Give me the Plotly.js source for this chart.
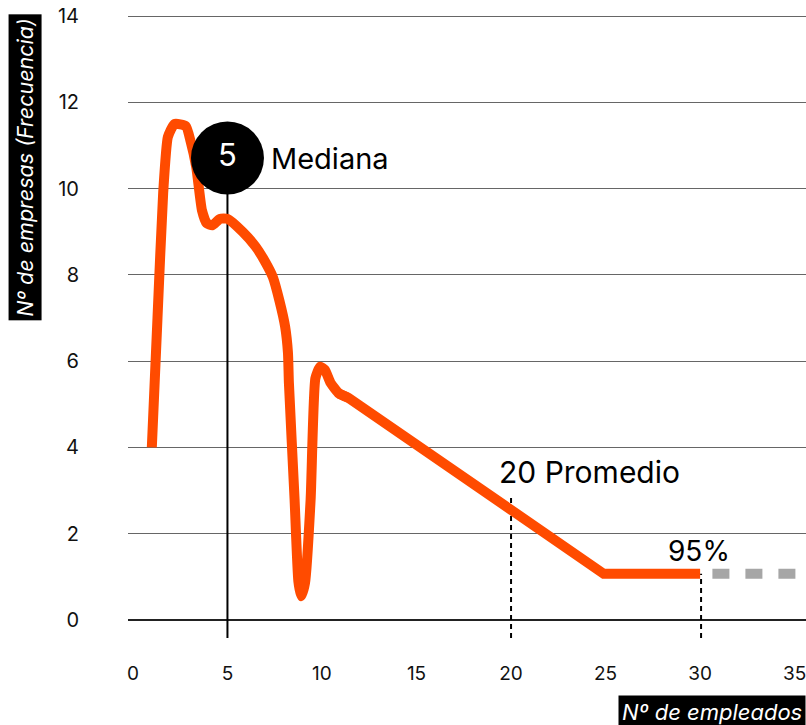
<!DOCTYPE html>
<html>
<head>
<meta charset="utf-8">
<script src="https://cdn.plot.ly/plotly-3.0.1.min.js"></script>
<style>html,body{margin:0;padding:0;background:#fff;}#chart{width:806px;height:725px;}</style>
</head>
<body>
<div id="chart"></div>
<script>
// Distribution curve (Nº de empleados vs Nº de empresas)
const empleados = [1.0, 1.3, 1.6, 1.85, 2.2, 2.8, 3.05, 3.35, 3.65, 3.9, 4.2, 4.6, 5.0, 5.8, 6.5, 7.0, 7.4, 7.75, 8.05, 8.2, 8.25, 8.55, 8.75, 8.9, 9.1, 9.4, 9.65, 9.9, 10.15, 10.45, 10.9, 11.4, 24.9, 30.0];
const empresas  = [4.0, 7.0, 9.9, 11.2, 11.5, 11.45, 11.1, 10.5, 9.5, 9.2, 9.15, 9.3, 9.3, 9.0, 8.65, 8.3, 7.95, 7.4, 6.8, 6.2, 5.5, 2.8, 0.9, 0.55, 0.85, 2.8, 5.6, 5.87, 5.8, 5.5, 5.25, 5.15, 1.07, 1.07];
// Tail beyond the 95th percentile
const colaX = [30.65, 35.6];
const colaY = [1.07, 1.07];
// Reference values
const mediana = 5;
const medianaY = 10.71;
const promedio = 20;
const promedioTop = 2.86;
const p95 = 30.05;
const p95Top = 1.07;
const xTicks = [0, 5, 10, 15, 20, 25, 30, 35];
const yTicks = [0, 2, 4, 6, 8, 10, 12, 14];

const FONT = 'Inter, "Open Sans", sans-serif';
const ORANGE = '#FF4B00';
const yBottom = -0.42;
const splitAt = 31; // curved part ends at index 31, straight segments after

const traces = [
  {x: colaX, y: colaY, mode: 'lines', line: {color: '#A6A6A6', width: 10, dash: '17px,16px'}, hoverinfo: 'skip', showlegend: false},
  {x: empleados.slice(0, splitAt + 1), y: empresas.slice(0, splitAt + 1), mode: 'lines',
   line: {color: ORANGE, width: 10, shape: 'spline', smoothing: 0.5}, showlegend: false},
  {x: empleados.slice(splitAt - 1), y: empresas.slice(splitAt - 1), mode: 'lines',
   line: {color: ORANGE, width: 10, shape: 'linear'}, showlegend: false},
  {x: [mediana], y: [medianaY], mode: 'markers+text', marker: {color: '#000', size: 73}, text: [String(mediana)],
   textposition: 'middle center', textfont: {color: '#fff', size: 31, family: FONT}, showlegend: false}
];

const layout = {
  width: 806, height: 725,
  margin: {l: 128, r: 0, t: 14, b: 87},
  paper_bgcolor: '#fff', plot_bgcolor: '#fff',
  font: {family: FONT, color: '#111'},
  showlegend: false,
  xaxis: {
    range: [-0.26, 35.6], tickvals: xTicks, ticktext: xTicks.map(String),
    showgrid: false, zeroline: false, showline: false, ticks: '',
    tickfont: {size: 19, family: FONT, color: '#111'}, ticklabelstandoff: 22, ticklabeloverflow: 'allow'
  },
  yaxis: {
    range: [yBottom, 14.05], tickvals: yTicks, ticktext: yTicks.map(String),
    showgrid: true, gridcolor: '#666', gridwidth: 1,
    zeroline: true, zerolinecolor: '#222', zerolinewidth: 2,
    showline: false, ticks: '',
    tickfont: {size: 20, family: FONT, color: '#111'}, ticklabelstandoff: 48
  },
  shapes: [
    {type: 'line', xref: 'x', yref: 'y', x0: mediana, x1: mediana, y0: yBottom, y1: medianaY, line: {color: '#000', width: 2}, layer: 'between'},
    {type: 'line', xref: 'x', yref: 'y', x0: promedio, x1: promedio, y0: yBottom, y1: promedioTop, line: {color: '#000', width: 2, dash: '5px,4px'}, layer: 'between'},
    {type: 'line', xref: 'x', yref: 'y', x0: p95, x1: p95, y0: yBottom, y1: p95Top, line: {color: '#000', width: 2, dash: '5px,4px'}, layer: 'between'}
  ],
  annotations: [
    {text: 'Mediana', x: 7.2, y: medianaY, xref: 'x', yref: 'y', xanchor: 'left', yanchor: 'middle', showarrow: false, font: {size: 29, color: '#000', family: FONT}},
    {text: promedio + ' Promedio', x: 19.25, y: 3.43, xref: 'x', yref: 'y', xanchor: 'left', yanchor: 'middle', showarrow: false, font: {size: 30, color: '#000', family: FONT}},
    {text: '95%', x: 29.95, y: 1.6, xref: 'x', yref: 'y', xanchor: 'center', yanchor: 'middle', showarrow: false, font: {size: 28, color: '#000', family: FONT}},
    {text: '<i>Nº de empresas (Frecuencia)</i>', xref: 'paper', yref: 'paper', x: -0.152, y: 0.755, xanchor: 'center', yanchor: 'middle',
     textangle: -90, showarrow: false, bgcolor: '#000', borderpad: 3, font: {size: 21.5, color: '#fff', family: FONT}},
    {text: '<i>Nº de empleados</i>', xref: 'paper', yref: 'paper', x: 1, y: -0.119, xanchor: 'right', yanchor: 'middle',
     showarrow: false, bgcolor: '#000', borderpad: 3, font: {size: 22, color: '#fff', family: FONT}}
  ]
};

Plotly.newPlot('chart', traces, layout, {displayModeBar: false, staticPlot: true});
</script>
</body>
</html>
